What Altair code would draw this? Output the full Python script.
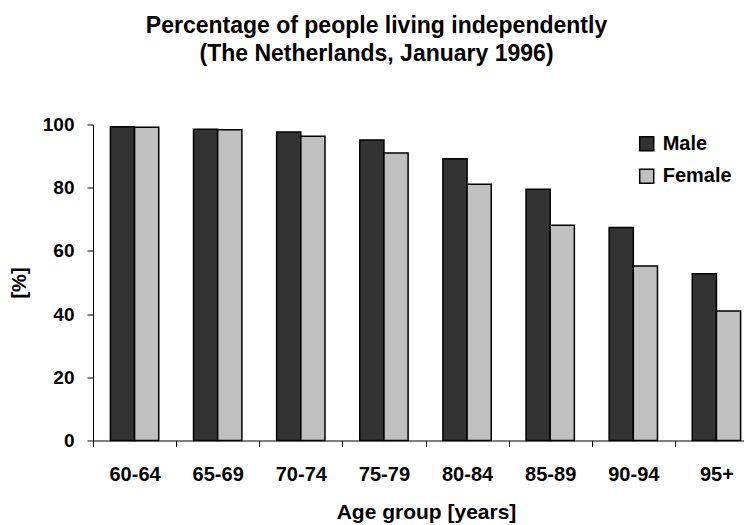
import altair as alt
import pandas as pd

age_groups = ["60-64", "65-69", "70-74", "75-79", "80-84", "85-89", "90-94", "95+"]
male = [99.3, 98.5, 97.6, 95.1, 89.2, 79.5, 67.4, 52.8]
female = [99.1, 98.3, 96.3, 91.0, 81.1, 68.1, 55.2, 41.0]
series = ["Male", "Female"]
colors = ["#333333", "#c0c0c0"]

rows = []
for i, g in enumerate(age_groups):
    rows.append({"age": g, "sex": "Male", "pct": male[i]})
    rows.append({"age": g, "sex": "Female", "pct": female[i]})
df = pd.DataFrame(rows)

FONT = "Arial, Liberation Sans, sans-serif"

chart = alt.Chart(df).mark_bar(stroke="black", strokeWidth=1.5).encode(
    x=alt.X("age:N", sort=age_groups,
            scale=alt.Scale(range=[0, 665], paddingInner=0, paddingOuter=0),
            axis=alt.Axis(title="Age group [years]", labelAngle=0, tickBand="extent",
                          tickSize=6, labelPadding=33.5, labelBaseline="alphabetic",
                          labelFontSize=20, labelFontWeight="bold", labelFont=FONT,
                          titleFontSize=21, titleFontWeight="bold", titleFont=FONT,
                          titleBaseline="alphabetic", titleY=78, titleX=333,
                          domainColor="black", tickColor="black", labelColor="black",
                          titleColor="black", grid=False)),
    xOffset=alt.XOffset("sex:N", sort=series,
                        scale=alt.Scale(paddingInner=0, paddingOuter=0.72)),
    y=alt.Y("pct:Q", scale=alt.Scale(domain=[0, 100]),
            axis=alt.Axis(title="[%]", values=[0, 20, 40, 60, 80, 100], tickSize=6,
                          labelPadding=13, labelFontSize=19, labelFontWeight="bold",
                          labelFont=FONT, titleFontSize=20, titleFontWeight="bold",
                          titleFont=FONT, titleAngle=-90, titleX=-74, titleY=158,
                          titleAlign="center", titleBaseline="middle",
                          domainColor="black", tickColor="black", labelColor="black",
                          titleColor="black", grid=False)),
    color=alt.Color("sex:N", sort=series,
                    scale=alt.Scale(domain=series, range=colors),
                    legend=alt.Legend(title=None, orient="none", legendX=543.7, legendY=9.2,
                                      symbolType="square", symbolSize=196,
                                      symbolStrokeColor="black", symbolStrokeWidth=1.5,
                                      labelFontSize=20, labelFontWeight="bold",
                                      labelFont=FONT, labelColor="black",
                                      labelOffset=6, rowPadding=12.6, padding=0)),
).properties(
    width=651,
    height=316,
    title=alt.TitleParams(
        text=["Percentage of people living independently", "(The Netherlands, January 1996)"],
        fontSize=23, fontWeight="bold", font=FONT, color="black",
        anchor="middle", lineHeight=28, dx=-42, offset=50,
    ),
    autosize=alt.AutoSizeParams(type="none"),
    padding={"left": 85, "top": 116.5, "right": 0, "bottom": 84},
).configure_view(stroke=None)

chart.save("out.html", embed_options={"renderer": "svg", "actions": False})
